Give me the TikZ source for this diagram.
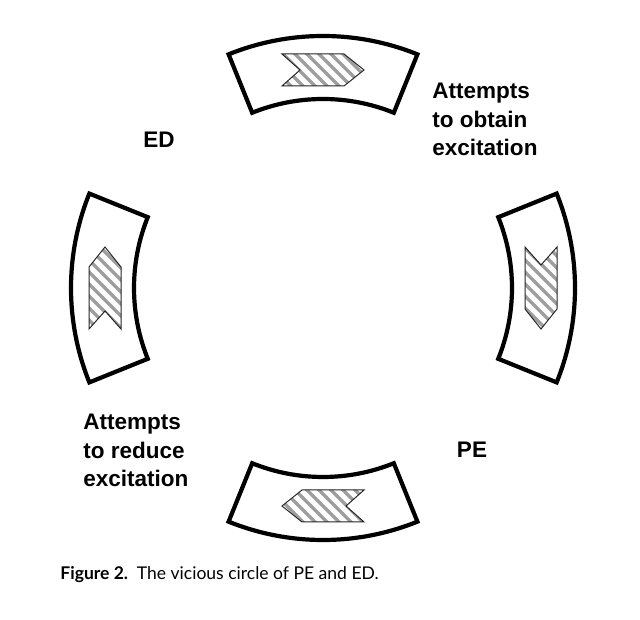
\documentclass[tikz,border=0pt]{standalone}
\usepackage{fontspec}
\setmainfont{Liberation Sans}
\newfontfamily\captfont{Lato}
\usetikzlibrary{calc}

\begin{document}
\begin{tikzpicture}[x=0.5bp,y=0.5bp,
  segbox/.style={line width=2.1bp, line join=miter},
  chevron/.style={draw=black!85, line width=0.5bp},
  hatchline/.style={draw=black!38, line width=1.7bp},
  lbl/.style={font=\bfseries\fontsize{11.3}{14.2}\selectfont, inner sep=0pt},
  capt/.style={font=\captfont\fontsize{8.8}{10}\selectfont, inner sep=0pt}]
\useasboundingbox (0,0) rectangle (640,620);
\coordinate (c) at (323,332);
\def\rin{189} \def\rout{252} \def\rmid{218}
% the four pieces of the ring
\foreach \a in {0,90,180,270}
  \draw[segbox] ($(c)+(\a-22:\rin)$) arc[start angle=\a-22, end angle=\a+22, radius=\rin]
    -- ($(c)+(\a+22:\rout)$) arc[start angle=\a+22, end angle=\a-22, radius=\rout] -- cycle;
% hatched arrows, all going clockwise
\foreach \a in {0,90,180,270} {
  \begin{scope}
    \clip[shift={($(c)+(\a:\rmid)$)}, rotate=\a-90] (-41,16) -- (21,16) -- (41,0) -- (21,-16) -- (-41,-16) -- (-23,0) -- cycle;
    \foreach \k in {-84,-72,...,84}
      \draw[hatchline] ($(c)+(\a:\rmid)+(\k-60,60)$) -- ++(120,-120);
  \end{scope}
  \draw[chevron, shift={($(c)+(\a:\rmid)$)}, rotate=\a-90] (-41,16) -- (21,16) -- (41,0) -- (21,-16) -- (-41,-16) -- (-23,0) -- cycle;
}
\node[lbl, anchor=north west, align=left] (obtain) at (432,537) {Attempts\\to obtain\\excitation};
\node[lbl, anchor=north west, align=left] (reduce) at (83,206) {Attempts\\to reduce\\excitation};
\node[lbl, anchor=base] (ed) at (159,472) {ED};
\node[lbl, anchor=base] (pe) at (472,162) {PE};
\node[capt, anchor=base west] (caption) at (60,40) {\textbf{Figure 2.}\hspace{0.5em}The vicious circle of PE and ED.};
\end{tikzpicture}
\end{document}
